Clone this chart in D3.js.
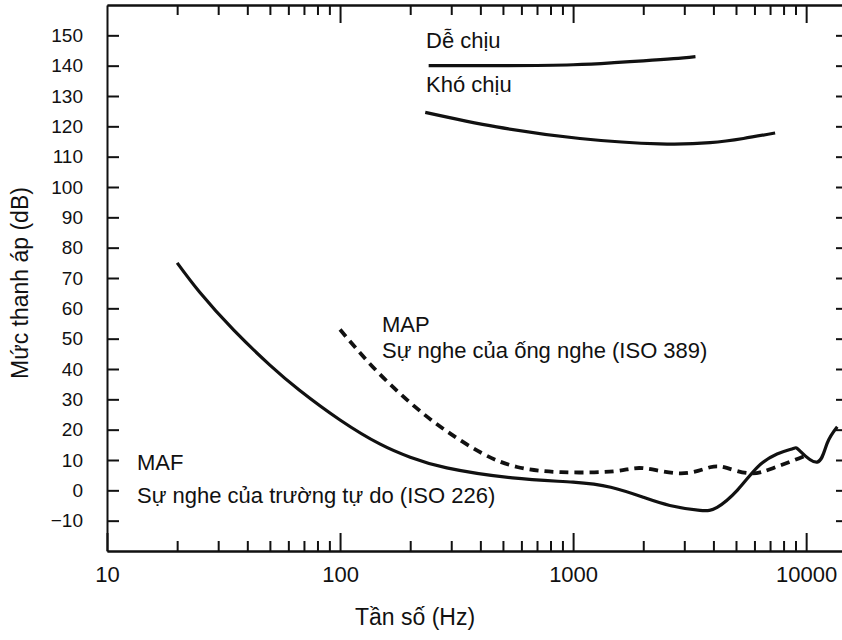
<!DOCTYPE html>
<html>
<head>
<meta charset="utf-8">
<script src="https://cdn.jsdelivr.net/npm/d3@7"></script>
<style>
    body { margin: 0; background: #fff; }
    svg text { font-family: "Liberation Sans", Arial, sans-serif; fill: #111; }
    .axis path, .axis line { stroke: #111; stroke-width: 2; }
    .curve { fill: none; stroke: #111; stroke-width: 3.2; stroke-linecap: butt; }
</style>
</head>
<body>
<div id="chart-area"></div>
<script>

// Values (frequency in Hz, level in dB)
var mafFreq = [20, 25, 35, 50, 67, 100, 148, 200, 287, 550, 1000, 1450, 2000, 2600, 3500, 4150, 5060, 6170, 7500, 8800, 9400, 11150, 12300, 13600];
var mafLevel = [75, 65.3, 52.8, 41.3, 33, 23.2, 15.3, 10.9, 7.4, 4.1, 2.7, 1, -2.3, -5, -6.6, -5.6, 0, 7.6, 12, 13.8, 13, 9.3, 15.5, 21];

var mapFreq = [100, 143, 210, 287, 405, 575, 890, 1500, 2000, 2900, 3870, 4600, 5750, 7200, 9350, 10000];
var mapLevel = [53, 39.5, 27.5, 19.5, 12.3, 7.7, 6, 6.3, 7.3, 5.6, 7.6, 7.3, 5.6, 7.3, 10.6, 11.5];

var comfortFreq = [240, 500, 1000, 1500, 2000, 2700, 3350];
var comfortLevel = [140, 140, 140.3, 141, 141.6, 142.3, 143];

var discomfortFreq = [232, 470, 1070, 2350, 3870, 5380, 7360];
var discomfortLevel = [124.6, 119.8, 116, 114.2, 114.6, 116, 117.8];

var yTicks = [-10, 0, 10, 20, 30, 40, 50, 60, 70, 80, 90, 100, 110, 120, 130, 140, 150];
var xMajorTicks = [10, 100, 1000, 10000];
var xMinorTicks = [20, 30, 40, 50, 60, 70, 80, 90, 200, 300, 400, 500, 600, 700, 800, 900,
                   2000, 3000, 4000, 5000, 6000, 7000, 8000, 9000];

var xLabel = "Tần số (Hz)";
var yLabel = "Mức thanh áp (dB)";


ThresholdChart = function(_parentElement){
    var vis = this;
    vis.parentElement = _parentElement;
    vis.initVis();
};

ThresholdChart.prototype.initVis = function(){
    var vis = this;

    vis.margin = { top: 5, right: 0, bottom: 89, left: 107 };
    vis.width = 842 - vis.margin.left - vis.margin.right;
    vis.height = 640 - vis.margin.top - vis.margin.bottom;

    vis.svg = d3.select("#" + vis.parentElement).append("svg")
        .attr("width", 842)
        .attr("height", 640)
        .append("g")
        .attr("transform", "translate(" + vis.margin.left + "," + vis.margin.top + ")");

    vis.x = d3.scaleLog()
        .domain([10, 14250])
        .range([0, vis.width]);

    vis.y = d3.scaleLinear()
        .domain([-20, 160])
        .range([vis.height, 0]);

    vis.line = d3.line()
        .x(function(d){ return vis.x(d[0]); })
        .y(function(d){ return vis.y(d[1]); })
        .curve(d3.curveNatural);

    vis.updateVis();
};

ThresholdChart.prototype.updateVis = function(){
    var vis = this;

    // Bottom axis: minor + major ticks pointing up
    vis.svg.append("g")
        .attr("class", "axis")
        .attr("transform", "translate(0," + vis.height + ")")
        .call(d3.axisBottom(vis.x).tickValues(xMinorTicks).tickSize(-10).tickSizeOuter(0).tickFormat(""));

    vis.svg.append("g")
        .attr("class", "axis x-major")
        .attr("transform", "translate(0," + vis.height + ")")
        .call(d3.axisBottom(vis.x).tickValues(xMajorTicks).tickSize(-18).tickSizeOuter(0)
            .tickPadding(15).tickFormat(d3.format("d")));

    vis.svg.select(".x-major").selectAll("text")
        .style("font-size", "22px");

    // Top border: same ticks pointing down
    vis.svg.append("g")
        .attr("class", "axis")
        .call(d3.axisTop(vis.x).tickValues(xMinorTicks).tickSize(-10).tickSizeOuter(0).tickFormat(""));

    vis.svg.append("g")
        .attr("class", "axis")
        .call(d3.axisTop(vis.x).tickValues(xMajorTicks.slice(1)).tickSize(-18).tickSizeOuter(0).tickFormat(""));

    // Left axis, ticks inward
    vis.svg.append("g")
        .attr("class", "axis y-left")
        .call(d3.axisLeft(vis.y).tickValues(yTicks).tickSize(-12).tickSizeOuter(0).tickPadding(24));

    vis.svg.select(".y-left").selectAll("text")
        .style("font-size", "19px");

    // Right axis (line sits just off the page, ticks show)
    vis.svg.append("g")
        .attr("class", "axis")
        .attr("transform", "translate(" + (vis.width + 1) + ",0)")
        .call(d3.axisLeft(vis.y).tickValues(yTicks).tickSize(7).tickSizeOuter(0).tickFormat(""));

    // Curves
    var curves = [
        { freq: mafFreq, level: mafLevel, dash: null },
        { freq: mapFreq, level: mapLevel, dash: "9,6" },
        { freq: comfortFreq, level: comfortLevel, dash: null },
        { freq: discomfortFreq, level: discomfortLevel, dash: null }
    ];

    vis.svg.selectAll(".curve")
        .data(curves)
        .enter().append("path")
        .attr("class", "curve")
        .attr("d", function(d){
            return vis.line(d.freq.map(function(f, i){ return [f, d.level[i]]; }));
        })
        .style("stroke-width", function(d){ return d.dash ? 3.8 : 3.2; })
        .style("stroke-dasharray", function(d){ return d.dash; });

    // Annotations
    var notes = [
        { text: "Dễ chịu", x: 319, y: 43 },
        { text: "Khó chịu", x: 319, y: 87 },
        { text: "MAP", x: 275, y: 327 },
        { text: "Sự nghe của ống nghe (ISO 389)", x: 275, y: 353 },
        { text: "MAF", x: 30, y: 465 },
        { text: "Sự nghe của trường tự do (ISO 226)", x: 30, y: 498 }
    ];

    vis.svg.selectAll(".note")
        .data(notes)
        .enter().append("text")
        .attr("class", "note")
        .attr("x", function(d){ return d.x; })
        .attr("y", function(d){ return d.y; })
        .style("font-size", "22px")
        .text(function(d){ return d.text; });

    // Axis titles
    vis.svg.append("text")
        .attr("text-anchor", "middle")
        .attr("x", 415 - vis.margin.left)
        .attr("y", 625 - vis.margin.top)
        .style("font-size", "23px")
        .text(xLabel);

    vis.svg.append("text")
        .attr("text-anchor", "middle")
        .attr("transform", "translate(" + (28 - vis.margin.left) + "," + (283 - vis.margin.top) + ") rotate(-90)")
        .style("font-size", "23px")
        .text(yLabel);
};

var chart = new ThresholdChart("chart-area");

</script>
</body>
</html>
